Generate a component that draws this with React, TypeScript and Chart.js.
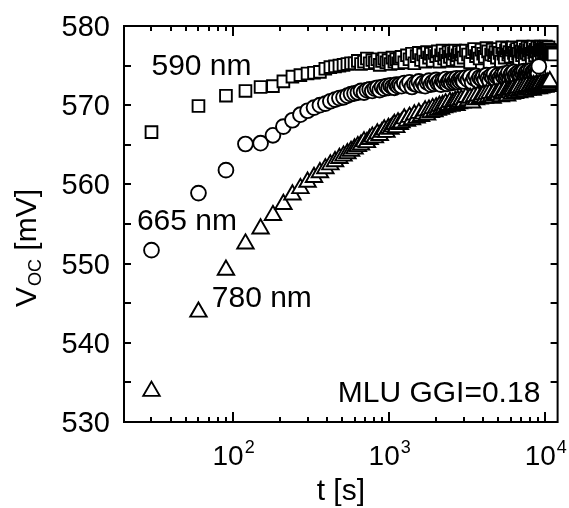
import { useEffect, useRef } from "react";
import { Chart, registerables } from "chart.js";

Chart.register(...registerables);

// time stamps [s]
const times = [
  30, 60, 90, 120, 150, 180, 210, 240, 270, 300, 330, 360, 390, 420, 450, 480, 510, 540, 570, 600,
  630, 660, 690, 720, 750, 780, 810, 840, 870, 900, 930, 960, 990, 1020, 1050, 1080, 1110, 1140, 1170, 1200,
  1250, 1300, 1350, 1400, 1450, 1500, 1550, 1600, 1650, 1700, 1750, 1800, 1850, 1900, 1950, 2000, 2050, 2100,
  2150, 2200, 2250, 2300, 2350, 2400, 2450, 2500, 2550, 2600, 2650, 2700, 2750, 2800, 2850, 2900, 2950, 3000,
  3100, 3200, 3300, 3400, 3500, 3600, 3700, 3800, 3900, 4000,
  4100, 4200, 4300, 4400, 4500, 4600, 4700, 4800, 4900, 5000,
  5100, 5200, 5300, 5400, 5500, 5600, 5700, 5800, 5900, 6000,
  6100, 6200, 6300, 6400, 6500, 6600, 6700, 6800, 6900, 7000,
  7100, 7200, 7300, 7400, 7500, 7600, 7700, 7800, 7900, 8000,
  8100, 8200, 8300, 8400, 8500, 8600, 8700, 8800, 8900, 9000,
  9100, 9200, 9300, 9400, 9500, 9600, 9700, 9800, 9900, 10000,
  10100, 10200, 10300, 10400, 10500, 10600, 10700, 10800, 10900, 11000,
  11100, 11200, 11300, 11400,
];

// Voc [mV] at 590 nm (squares)
const v590 = [
  566.6, 569.9, 571.2, 571.8, 572.3, 572.4, 573.0, 573.6, 573.8, 574.0,
  574.1, 574.2, 574.6, 574.8, 574.9, 575.0, 575.1, 575.2, 575.3, 575.3,
  575.6, 575.2, 575.5, 575.9, 575.3, 575.7, 575.4, 575.8, 575.1, 575.6,
  575.9, 575.4, 575.7, 575.2, 576.0, 575.5, 575.8, 575.3, 575.9,
  576.1, 575.4, 576.3, 575.8, 576.5, 575.3, 576.2, 576.6, 575.7, 576.4, 575.5, 576.7, 576.0, 576.5, 575.6, 576.6, 576.2, 576.8,
  575.5, 576.3, 576.9, 575.9, 576.4, 575.6, 576.7, 576.1, 576.8, 575.7, 576.5, 576.9, 575.8, 576.3, 576.7, 575.6, 576.4, 576.8,
  576.0, 576.9, 576.4, 575.4, 576.7, 577.1, 576.2, 576.6, 575.9, 577.0,
  576.5, 576.1, 577.2, 576.8, 575.4, 576.4, 577.0, 576.3, 576.7, 576.0,
  577.1, 576.6, 575.5, 577.3, 576.5, 576.0, 576.9, 577.2, 576.4, 576.7,
  576.1, 577.0, 577.3, 576.6, 576.2, 576.9, 577.1, 576.5, 575.5, 577.2,
  576.8, 576.3, 577.4, 576.7, 575.6, 577.0, 576.6, 577.3, 576.4, 576.9,
  577.2, 576.5, 575.6, 577.1, 577.4, 576.7, 576.3, 577.0, 576.8, 577.3,
  576.6, 575.7, 577.2, 576.9, 577.4, 576.5, 577.0, 577.3, 576.7, 577.1,
  576.9, 577.4, 576.6, 577.2, 576.8, 577.3, 576.7, 577.0, 576.5, 576.9,
  576.7, 576.5, 576.6, 576.4,
];

// Voc [mV] at 665 nm (circles)
const v665 = [
  551.7, 558.9, 561.8, 565.1, 565.2, 566.2, 567.3, 568.1, 568.8, 569.3,
  569.7, 570.0, 570.2, 570.5, 570.7, 570.9, 571.0, 571.2, 571.4, 571.5,
  571.6, 571.8, 571.6, 571.9, 572.0, 571.8, 572.1, 572.2, 571.9, 572.3,
  572.1, 572.4, 572.2, 572.5, 572.3, 572.2, 572.6, 572.4, 572.6,
  572.4, 572.8, 572.5, 572.9, 572.3, 572.7, 572.6, 573.0, 572.5, 572.8, 572.4, 572.9, 573.1, 572.6, 572.9, 572.7, 573.2, 572.8,
  573.0, 572.6, 573.1, 572.9, 573.3, 572.7, 573.0, 573.2, 572.8, 573.3, 572.9, 573.1, 573.4, 572.9, 573.2, 573.0, 573.4, 573.1,
  573.0, 573.5, 573.2, 573.6, 572.9, 573.4, 573.7, 573.1, 573.5, 573.3,
  573.6, 573.2, 573.8, 573.4, 573.1, 573.7, 573.5, 573.9, 573.3, 573.6,
  573.8, 573.4, 573.2, 573.9, 573.6, 574.0, 573.5, 573.7, 574.1, 573.4,
  573.8, 574.0, 573.6, 574.2, 573.7, 573.9, 573.5, 574.1, 573.8, 574.0,
  573.6, 574.2, 573.9, 574.3, 573.7, 574.0, 574.2, 573.8, 574.3, 573.9,
  574.1, 574.4, 573.8, 574.2, 574.0, 574.3, 573.9, 574.4, 574.1, 574.2,
  574.0, 574.9,
];

// Voc [mV] at 780 nm (triangles)
const v780 = [
  533.9, 543.9, 549.2, 552.5, 554.4, 556.1, 557.5, 558.7, 559.5, 560.3,
  560.9, 561.5, 562.0, 562.5, 562.9, 563.3, 563.6, 563.9, 564.2, 564.5,
  564.8, 565.0, 565.4, 565.3, 565.7, 566.0, 565.9, 566.4, 566.2, 566.6,
  566.9, 566.6, 567.1, 567.0, 567.3, 567.6, 567.2, 567.8, 567.6,
  567.8, 568.3, 568.0, 568.5, 568.2, 568.8, 568.4, 569.0, 568.6, 568.9, 569.3, 568.8, 569.4, 569.1, 569.6, 569.2, 569.7, 569.4,
  569.9, 569.5, 570.0, 569.7, 570.2, 569.8, 570.0, 570.4, 569.9, 570.3, 570.1, 570.5, 570.0, 570.6, 570.2, 570.4, 570.7, 570.3,
  570.4, 571.0, 570.6, 570.9, 570.3, 571.1, 570.7, 571.2, 570.8, 571.0,
  571.3, 570.9, 571.4, 571.0, 571.5, 571.1, 570.9, 571.6, 571.2, 571.5,
  571.3, 571.7, 571.1, 571.6, 571.4, 571.9, 571.5, 571.2, 571.8, 571.6,
  571.9, 571.4, 572.0, 571.7, 571.5, 572.1, 571.8, 572.2, 571.6, 571.9,
  572.2, 571.8, 572.0, 572.3, 571.7, 572.1, 572.4, 571.9, 572.2, 572.0,
  572.4, 572.0, 572.3, 571.9, 572.5, 572.2, 572.4, 572.1, 572.6, 572.3,
  572.5, 572.1, 572.4, 572.7, 572.2, 572.5, 572.3, 572.7, 572.4, 572.6,
  572.3, 572.7, 572.5, 572.8, 572.4, 572.6, 572.8, 573.0,
];

const seriesLabels = ["590 nm", "665 nm", "780 nm"];
// label anchor positions in data coordinates [t, V]
const labelAnchors = [
  [30, 573.8],
  [24.2, 554.2],
  [73, 544.5],
];
const noteText = "MLU GGI=0.18";
const noteAnchor = [9300, 532.5];

const yMin = 530;
const yMax = 580;
const xMin = 20;
const xMax = 12000;
const yLabelTicks = [530, 540, 550, 560, 570, 580];
const yAllTicks = [530, 535, 540, 545, 550, 555, 560, 565, 570, 575, 580];
const xMajorExponents = [2, 3, 4];
const xMinorTicks = [
  20, 30, 40, 50, 60, 70, 80, 90,
  200, 300, 400, 500, 600, 700, 800, 900,
  2000, 3000, 4000, 5000, 6000, 7000, 8000, 9000,
];

const FONT = '"Liberation Sans", Arial, sans-serif';

function toPoints(vals: number[]) {
  return vals.map((v, i) => ({ x: times[i], y: v }));
}

const framePlugin = {
  id: "framePlugin",
  afterDraw(chart: any) {
    const ctx = chart.ctx;
    const { left, right, top, bottom } = chart.chartArea;
    const xs = chart.scales.x;
    const ys = chart.scales.y;
    ctx.save();
    ctx.strokeStyle = "#000";
    ctx.fillStyle = "#000";
    ctx.lineWidth = 2;
    ctx.lineCap = "butt";
    // frame
    ctx.strokeRect(left, top, right - left, bottom - top);

    // x ticks (bottom and top, inward)
    const xTick = (v: number, len: number) => {
      const px = Math.round(xs.getPixelForValue(v));
      ctx.beginPath();
      ctx.moveTo(px, bottom);
      ctx.lineTo(px, bottom - len);
      ctx.moveTo(px, top);
      ctx.lineTo(px, top + len);
      ctx.stroke();
    };
    xMajorExponents.forEach((e) => xTick(Math.pow(10, e), 10));
    xMinorTicks.forEach((v) => xTick(v, 5));

    // y ticks (left and right, inward)
    yAllTicks.forEach((v) => {
      const py = Math.round(ys.getPixelForValue(v));
      ctx.beginPath();
      ctx.moveTo(left, py);
      ctx.lineTo(left + 7, py);
      ctx.moveTo(right, py);
      ctx.lineTo(right - 7, py);
      ctx.stroke();
    });

    // y tick labels
    ctx.font = `29px ${FONT}`;
    ctx.textAlign = "right";
    ctx.textBaseline = "alphabetic";
    yLabelTicks.forEach((v) => {
      const py = ys.getPixelForValue(v);
      ctx.fillText(String(v), left - 14, py + 10);
    });

    // x tick labels 10^n
    xMajorExponents.forEach((e) => {
      const px = xs.getPixelForValue(Math.pow(10, e));
      ctx.font = `28px ${FONT}`;
      const wMain = ctx.measureText("10").width;
      ctx.font = `18px ${FONT}`;
      const wSup = ctx.measureText(String(e)).width;
      const start = px - (wMain + wSup) / 2;
      ctx.textAlign = "left";
      ctx.font = `28px ${FONT}`;
      ctx.fillText("10", start, bottom + 43);
      ctx.font = `18px ${FONT}`;
      ctx.fillText(String(e), start + wMain + 1, bottom + 31);
    });

    // x title
    ctx.font = `30px ${FONT}`;
    ctx.textAlign = "center";
    ctx.fillText("t [s]", (left + right) / 2, bottom + 78);

    // y title: V_OC [mV]
    ctx.save();
    ctx.translate(36, 307);
    ctx.rotate(-Math.PI / 2);
    ctx.textAlign = "left";
    ctx.font = `30px ${FONT}`;
    ctx.fillText("V", 0, 0);
    let off = ctx.measureText("V").width;
    ctx.font = `18px ${FONT}`;
    ctx.fillText("OC", off + 1, 5);
    off += ctx.measureText("OC").width + 1;
    ctx.font = `30px ${FONT}`;
    ctx.fillText(" [mV]", off, 0);
    ctx.restore();

    // series labels
    ctx.font = `30px ${FONT}`;
    ctx.textAlign = "left";
    seriesLabels.forEach((s, i) => {
      const [t, v] = labelAnchors[i];
      ctx.fillText(s, xs.getPixelForValue(t), ys.getPixelForValue(v));
    });
    ctx.textAlign = "right";
    ctx.fillText(noteText, xs.getPixelForValue(noteAnchor[0]), ys.getPixelForValue(noteAnchor[1]));

    ctx.restore();
  },
};

export default function App() {
  const ref = useRef<HTMLCanvasElement | null>(null);
  useEffect(() => {
    if (!ref.current) return;
    const common = {
      borderColor: "#000",
      backgroundColor: "#fff",
      borderWidth: 1.9,
      showLine: false,
    };
    const chart = new Chart(ref.current, {
      type: "scatter",
      data: {
        datasets: [
          { ...common, label: seriesLabels[0], data: toPoints(v590), pointStyle: "rect", pointRadius: 8.3, order: 3 },
          { ...common, label: seriesLabels[1], data: toPoints(v665), pointStyle: "circle", pointRadius: 7.4, order: 2 },
          { ...common, label: seriesLabels[2], data: toPoints(v780), pointStyle: "triangle", pointRadius: 9.5, order: 1 },
        ],
      },
      options: {
        animation: false,
        responsive: false,
        devicePixelRatio: 1,
        layout: { padding: { left: 124, top: 26, right: 10, bottom: 86 } },
        plugins: { legend: { display: false }, tooltip: { enabled: false } },
        scales: {
          x: { type: "logarithmic", min: xMin, max: xMax, display: false },
          y: { type: "linear", min: yMin, max: yMax, display: false },
        },
      },
      plugins: [framePlugin],
    });
    return () => chart.destroy();
  }, []);
  return (
    <div style={{ position: "fixed", left: 0, top: 0, width: 569, height: 508, background: "#fff" }}>
      <canvas ref={ref} width={569} height={508} style={{ display: "block" }} />
    </div>
  );
}
